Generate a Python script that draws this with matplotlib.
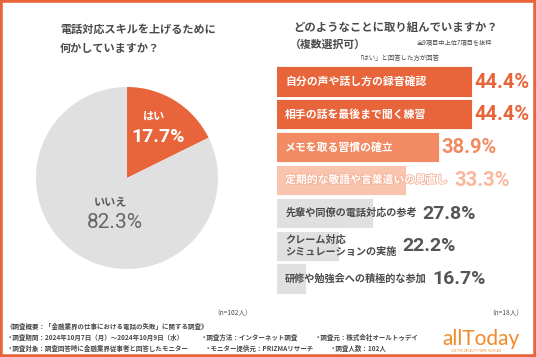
import matplotlib
matplotlib.use("Agg")
import matplotlib.pyplot as plt
import matplotlib.patheffects as pe
from matplotlib import font_manager as fm
from matplotlib.patches import Rectangle

# --- data ---
pie_labels = ["はい", "いいえ"]
pie_values = [17.7, 82.3]

bar_labels = ["自分の声や話し方の録音確認", "相手の話を最後まで聞く練習", "メモを取る習慣の確立",
              "定期的な敬語や言葉遣いの見直し", "先輩や同僚の電話対応の参考",
              "クレーム対応\nシミュレーションの実施", "研修や勉強会への積極的な参加"]
bar_values = [44.4, 44.4, 38.9, 33.3, 27.8, 22.2, 16.7]

ORANGE = "#E8643A"
GRAY = "#E0E0E0"
TXT = "#4a4a4a"
bar_colors = [ORANGE, ORANGE, "#F28B63", "#F9C4AE", GRAY, GRAY, GRAY]
val_colors = [ORANGE, ORANGE, "#F08A60", "#F9B79C", "#555555", "#555555", "#555555"]
lab_colors = ["white"] * 4 + ["#4a4a4a"] * 3

plt.rcParams['font.family'] = ['Noto Sans CJK JP', 'DejaVu Sans']
names = {f.name for f in fm.fontManager.ttflist}
NUM = 'Liberation Sans Narrow' if 'Liberation Sans Narrow' in names else 'Roboto'

W, H = 536, 357
fig = plt.figure(figsize=(W / 100, H / 100), dpi=100)
fig.patch.set_facecolor("white")


def px(x, y):
    return x / W, 1 - y / H


# --- pie ---
cx, cy, r = 127, 178, 91
ax1 = fig.add_axes([(cx - r) / W, 1 - (cy + r) / H, 2 * r / W, 2 * r / H])
ax1.pie(pie_values, colors=[ORANGE, GRAY], startangle=90, counterclock=False,
        wedgeprops=dict(linewidth=0))
ax1.set_xlim(-1, 1)
ax1.set_ylim(-1, 1)
ax1.axis("off")

fig.text(*px(154, 117), pie_labels[0], color="white", fontsize=8, fontweight="bold",
         ha="center", va="center")
fig.text(*px(158, 137), f"{pie_values[0]}%", color="white", fontsize=14, fontweight="bold",
         family=NUM, ha="center", va="center")
fig.text(*px(111, 202), pie_labels[1], color="#5a5a5a", fontsize=8, fontweight="bold",
         ha="center", va="center")
fig.text(*px(115, 222), f"{pie_values[1]}%", color="#666666", fontsize=15,
         family=NUM, ha="center", va="center")

# --- titles ---
fig.text(*px(60, 29), "電話対応スキルを上げるために", color=TXT, fontsize=8, fontweight="bold", va="center")
fig.text(*px(60, 48), "何かしていますか？", color=TXT, fontsize=8, fontweight="bold", va="center")
fig.text(*px(293, 27), "どのようなことに取り組んでいますか？", color=TXT, fontsize=8.2,
         fontweight="bold", va="center")
fig.text(*px(290, 45), "（複数選択可）", color=TXT, fontsize=7.8, fontweight="bold", va="center")
fig.text(*px(417, 43), "全9項目中上位7項目を抜粋", color=TXT, fontsize=4.5, va="center")
fig.text(*px(357, 58), "「はい」と回答した方が回答", color=TXT, fontsize=4.6, va="center")

# --- bars ---
bx0, by0, by1 = 277, 65, 295
ppu = 6.0                      # pixels per percent
xmin = 11.83
xmax = xmin + (W - bx0) / ppu
ax2 = fig.add_axes([bx0 / W, 1 - by1 / H, (W - bx0) / W, (by1 - by0) / H])
ys = list(range(len(bar_values)))
ax2.barh(ys, bar_values, left=0, height=0.92, color=bar_colors, edgecolor="white", linewidth=0.6)
ax2.set_xlim(xmin, xmax)
ax2.set_ylim(len(bar_values) - 0.5, -0.5)
ax2.axis("off")

labs = []
for i, (lab, c) in enumerate(zip(bar_labels, lab_colors)):
    t = ax2.text(xmin + 1.35, i, lab, color=c, fontsize=7.8 if i < 4 else 7.3,
                 fontweight="bold", va="center", ha="left", linespacing=1.35)
    if i == 3:
        t.set_path_effects([pe.withStroke(linewidth=1.2, foreground="#F7B196")])
    labs.append(t)

fig.canvas.draw()
rend = fig.canvas.get_renderer()
inv = ax2.transData.inverted()
for i, (v, c, t) in enumerate(zip(bar_values, val_colors, labs)):
    bar_right = ax2.transData.transform((v, 0))[0]
    text_right = t.get_window_extent(rend).x1
    xr = max(bar_right, text_right) + (2 if bar_right > text_right else 6)
    xd = inv.transform((xr, 0))[0]
    ax2.text(xd, i + 0.02, f"{v}%", color=c, fontsize=14.5 if i < 4 else 14,
             family=NUM, fontweight="bold", va="center", ha="left")

# --- footer ---
fig.text(*px(213, 313), "（n=102人）", color=TXT, fontsize=4.8, va="center")
fig.text(*px(488, 313), "（n=18人）", color=TXT, fontsize=4.8, va="center")
fs = 4.7
fig.text(*px(7, 326), "《調査概要：「金融業界の仕事における電話の失敗」に関する調査》", color=TXT,
         fontsize=fs, fontweight="bold", va="center")
fig.text(*px(7, 337), "・調査期間：2024年10月7日（月）～2024年10月9日（水）", color=TXT,
         fontsize=fs, fontweight="bold", va="center")
fig.text(*px(201, 337), "・調査方法：インターネット調査", color=TXT, fontsize=fs, fontweight="bold", va="center")
fig.text(*px(315, 337), "・調査元：株式会社オールトゥデイ", color=TXT, fontsize=fs, fontweight="bold", va="center")
fig.text(*px(7, 348), "・調査対象：調査回答時に金融業界従事者と回答したモニター", color=TXT,
         fontsize=fs, fontweight="bold", va="center")
fig.text(*px(205, 348), "・モニター提供元：PRIZMAリサーチ", color=TXT, fontsize=fs, fontweight="bold", va="center")
fig.text(*px(330, 348), "・調査人数：102人", color=TXT, fontsize=fs, fontweight="bold", va="center")

# logo
fig.text(*px(481, 339), "allToday", color="#F08A28", fontsize=15, family="Lato",
         ha="center", va="center")
fig.text(*px(476, 351.5), "LIVE THIS DAY AS IF IT WERE YOUR LAST", color="#F08A28", fontsize=1.8,
         family="DejaVu Sans", ha="center", va="center")

# frame
fig.patches.append(Rectangle((0, 0), 1, 1, transform=fig.transFigure, fill=False,
                             edgecolor=ORANGE, linewidth=4, zorder=10))

fig.savefig("out.png", dpi=100)
